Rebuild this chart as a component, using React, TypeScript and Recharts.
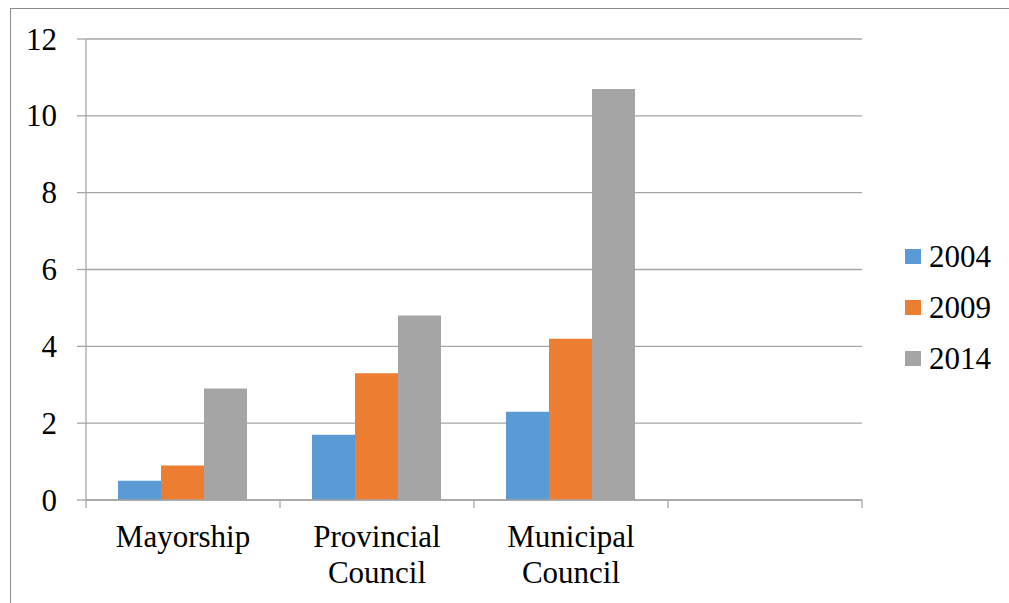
import { BarChart, Bar, XAxis, YAxis, CartesianGrid, Legend } from "recharts";

const categories = ["Mayorship", "Provincial Council", "Municipal Council", ""];
const values2004 = [0.5, 1.7, 2.3, null];
const values2009 = [0.9, 3.3, 4.2, null];
const values2014 = [2.9, 4.8, 10.7, null];
const yTicks = [0, 2, 4, 6, 8, 10, 12];

const series = [
  { key: "2004", color: "#5B9BD5" },
  { key: "2009", color: "#ED7D31" },
  { key: "2014", color: "#A5A5A5" },
];

const data = categories.map((name, i) => ({
  name,
  "2004": values2004[i],
  "2009": values2009[i],
  "2014": values2014[i],
}));

const FONT = "'Liberation Serif', 'Times New Roman', 'DejaVu Serif', 'Noto Serif', serif";
const GRID = "#A6A6A6";
const textStyle = { fontFamily: FONT, fontSize: 31, fill: "#000" };

// category label plus the small tick marks on the category boundaries
function CategoryTick(props: any) {
  const { x, y, payload, width, visibleTicksCount, index } = props;
  const band = Number(width) / Number(visibleTicksCount || 1);
  const words = String(payload.value).split(" ").filter(Boolean);
  const isLast = index === visibleTicksCount - 1;
  return (
    <g>
      {Number.isFinite(band) && (
        <line x1={x - band / 2} x2={x - band / 2} y1={y} y2={y + 8} stroke={GRID} strokeWidth={1.3} />
      )}
      {Number.isFinite(band) && isLast && (
        <line x1={x + band / 2} x2={x + band / 2} y1={y} y2={y + 8} stroke={GRID} strokeWidth={1.3} />
      )}
      <text x={x} y={y} textAnchor="middle" style={textStyle}>
        {words.map((w, i) => (
          <tspan key={i} x={x} y={y + 47 + i * 36}>
            {w}
          </tspan>
        ))}
      </text>
    </g>
  );
}

function ValueTick(props: any) {
  const { x, y, payload } = props;
  return (
    <text x={x} y={y + 10.5} textAnchor="end" style={textStyle}>
      {payload.value}
    </text>
  );
}

function LegendBox() {
  return (
    <svg width={100} height={170}>
      {series.map((s, i) => (
        <g key={s.key}>
          <rect x={0} y={10 + i * 51} width={16} height={15} fill={s.color} />
          <text x={24} y={10 + i * 51 + 17.5} style={textStyle}>
            {s.key}
          </text>
        </g>
      ))}
    </svg>
  );
}

export default function App() {
  return (
    <div style={{ position: "absolute", left: 0, top: 0, width: 1009, height: 603, background: "#fff", overflow: "hidden" }}>
      <div
        style={{
          position: "absolute",
          left: 10,
          top: 8,
          width: 998,
          height: 600,
          borderTop: "1.5px solid #8C8C8C",
          borderLeft: "1.5px solid #8C8C8C",
        }}
      />
      <BarChart
        width={1009}
        height={603}
        data={data}
        margin={{ top: 39, right: 147, bottom: 0, left: 0 }}
        barCategoryGap="16.5%"
        barGap={0}
      >
        <CartesianGrid vertical={false} stroke={GRID} strokeWidth={1.3} />
        <XAxis
          dataKey="name"
          height={103}
          stroke={GRID}
          strokeWidth={1.3}
          tickLine={false}
          tickSize={0}
          tickMargin={0}
          interval={0}
          tick={<CategoryTick />}
        />
        <YAxis
          domain={[0, 12]}
          ticks={yTicks}
          width={86}
          tickSize={9}
          tickMargin={20}
          stroke={GRID}
          strokeWidth={1.3}
          tickLine={{ stroke: GRID, strokeWidth: 1.3 }}
          tick={<ValueTick />}
        />
        <Legend
          layout="vertical"
          align="center"
          verticalAlign="middle"
          wrapperStyle={{ left: 905, top: 239, width: 100 }}
          content={() => <LegendBox />}
        />
        {series.map((s) => (
          <Bar key={s.key} dataKey={s.key} fill={s.color} isAnimationActive={false} />
        ))}
      </BarChart>
    </div>
  );
}
